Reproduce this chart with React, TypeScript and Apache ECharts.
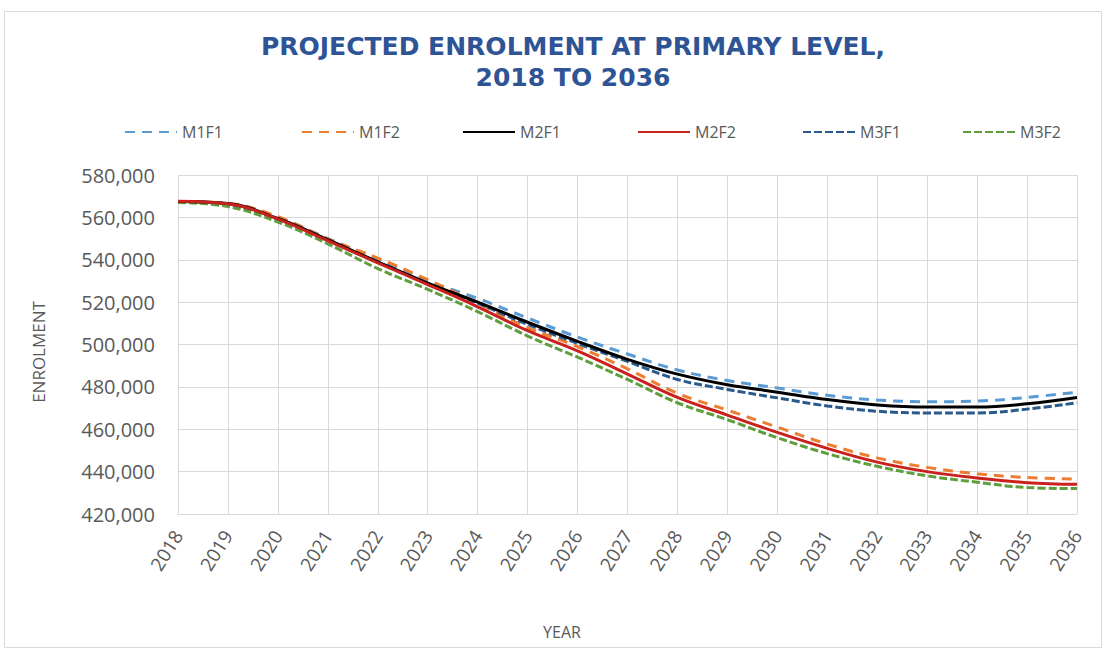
import React, { useEffect, useRef } from "react";
import * as echarts from "echarts";

const years = ["2018","2019","2020","2021","2022","2023","2024","2025","2026","2027","2028","2029","2030","2031","2032","2033","2034","2035","2036"];

const m1f1 = [567500,566500,560000,550000,540000,530000,521800,512500,503500,495500,488000,483000,479500,476000,473800,473000,473300,475000,477500];
const m1f2 = [567500,566600,560300,549800,540800,530600,519500,508000,499000,488500,477000,469000,461000,453000,446500,442000,439000,437200,436500];
const m2f1 = [567500,566500,559500,549500,539000,529000,520000,510500,501500,493000,486000,481000,477500,474000,471500,470500,470500,472000,475000];
const m2f2 = [567600,566400,559200,549000,538500,528300,517800,506500,497000,486000,475000,466700,458500,451000,444500,440000,437000,434800,434000];
const m3f1 = [567300,566000,559000,549000,538800,528800,519500,509500,500500,492000,483500,478800,474800,471000,468500,467700,467700,469500,472500];
const m3f2 = [567000,565100,557800,547500,535800,526000,515500,504000,494000,483500,472500,464500,456000,448500,442500,438000,435000,432500,432000];

const yTicks = { min: 420000, max: 580000, interval: 20000 };

const seriesDefs = [
  { name: "M1F1", data: m1f1, color: "#5b9bd5", type: [10, 7] as any, z: 2 },
  { name: "M1F2", data: m1f2, color: "#ed7d31", type: [10, 7] as any, z: 2 },
  { name: "M2F1", data: m2f1, color: "#000000", type: "solid", z: 4 },
  { name: "M2F2", data: m2f2, color: "#c9211e", type: "solid", z: 4 },
  { name: "M3F1", data: m3f1, color: "#2a5a8c", type: [8, 3] as any, z: 3 },
  { name: "M3F2", data: m3f2, color: "#5e9e3c", type: [8, 3] as any, z: 3 },
];

const legendLefts = [119, 296, 457, 632, 797, 957];

const FONT = "'Open Sans', sans-serif";

export default function App() {
  const ref = useRef<HTMLDivElement>(null);
  useEffect(() => {
    if (!ref.current) return;
    const chart = echarts.init(ref.current, undefined, { renderer: "svg" });
    chart.setOption({
      animation: false,
      backgroundColor: "#ffffff",
      title: {
        text: "PROJECTED ENROLMENT AT PRIMARY LEVEL,\n2018 TO 2036",
        left: 568,
        top: 26,
        textAlign: "center",
        textStyle: {
          fontFamily: "'DejaVu Sans', sans-serif",
          fontWeight: "bold",
          fontSize: 25,
          color: "#2f5496",
          lineHeight: 31,
        },
      },
      legend: seriesDefs.map((s, i) => ({
        data: [s.name],
        left: legendLefts[i],
        top: 119,
        itemWidth: 52,
        itemHeight: 16,
        itemStyle: { opacity: 0 },
        textStyle: { fontFamily: FONT, fontSize: 16, color: "#595959" },
      })),
      grid: { left: 178, right: 29, top: 175, bottom: 138 },
      xAxis: {
        type: "category",
        data: years,
        boundaryGap: false,
        axisLine: { lineStyle: { color: "#d9d9d9" } },
        axisTick: { show: false },
        splitLine: { show: true, lineStyle: { color: "#d9d9d9", width: 1 } },
        axisLabel: {
          rotate: 58,
          margin: 18,
          fontFamily: FONT,
          fontSize: 19,
          color: "#595959",
        },
      },
      yAxis: {
        type: "value",
        min: yTicks.min,
        max: yTicks.max,
        interval: yTicks.interval,
        axisLine: { show: false },
        axisTick: { show: false },
        splitLine: { lineStyle: { color: "#d9d9d9", width: 1 } },
        axisLabel: {
          margin: 23,
          fontFamily: FONT,
          fontSize: 20,
          color: "#595959",
          formatter: (v: number) => v.toLocaleString("en-US"),
        },
      },
      graphic: [
        {
          type: "rect",
          shape: { x: 4.5, y: 11.5, width: 1097, height: 636 },
          style: { fill: "none", stroke: "#d9d9d9", lineWidth: 1 },
          silent: true,
        },
        {
          type: "text",
          x: 38,
          y: 352,
          rotation: Math.PI / 2,
          style: {
            text: "ENROLMENT",
            fontFamily: FONT,
            fontSize: 17,
            fill: "#595959",
            align: "center",
            verticalAlign: "middle",
          },
        },
        {
          type: "text",
          x: 562,
          y: 632,
          style: {
            text: "YEAR",
            fontFamily: FONT,
            fontSize: 16,
            fill: "#595959",
            align: "center",
            verticalAlign: "middle",
          },
        },
      ],
      series: seriesDefs.map((s) => ({
        name: s.name,
        type: "line",
        data: s.data,
        smooth: 0.4,
        symbol: "none",
        z: s.z,
        itemStyle: { color: s.color },
        lineStyle: { color: s.color, width: 3, type: s.type },
      })),
    });
    return () => chart.dispose();
  }, []);
  return (
    <div
      ref={ref}
      style={{ position: "fixed", left: 0, top: 0, width: 1106, height: 652, background: "#fff" }}
    />
  );
}
